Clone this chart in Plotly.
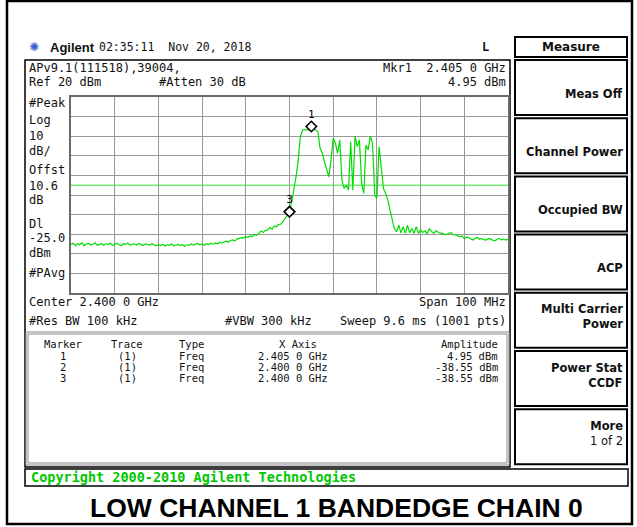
"""Agilent spectrum analyzer screen: low channel 1 bandedge, chain 0."""

import numpy as np
import plotly.graph_objects as go

W, H = 637, 527

# sweep settings
SWEEP_START_GHZ = 2.35
SWEEP_STOP_GHZ = 2.45
REF_LEVEL = 20
DB_PER_DIV = 10
DISPLAY_LINE = -25.0

# trace amplitude (dBm), one reading every 0.5 MHz across the 100 MHz span
trace_dbm = [
    -55.2, -54.6, -55.8, -54.9, -55.4, -54.3, -55.9, -55.0, -54.7, -55.5,
    -55.1, -54.4, -55.7, -55.2, -54.8, -55.6, -54.9, -55.3, -54.5, -55.8,
    -55.0, -54.6, -55.4, -55.9, -54.8, -55.2, -54.5, -55.7, -55.1, -54.9,
    -55.5, -54.7, -55.3, -55.8, -54.9, -55.2, -55.6, -54.8, -55.4, -55.9,
    -55.3, -55.8, -55.1, -56.0, -55.4, -55.7, -55.0, -55.9, -55.5, -55.2,
    -55.8, -55.3, -56.1, -55.4, -55.7, -55.0, -55.6, -55.2, -54.7, -55.4,
    -55.0, -55.6, -54.8, -55.3, -54.6, -55.1, -54.5, -54.9, -54.2, -54.6,
    -54.0, -53.6, -54.1, -53.2, -52.9, -53.4, -52.5, -52.1, -51.8, -52.0,
    -51.3, -51.6, -50.9, -51.2, -50.1, -50.6, -49.3, -48.4, -49.1, -48.0,
    -47.9, -46.6, -47.4, -45.8, -46.2, -45.1, -44.9, -43.6, -42.0, -40.3,
    -38.5, -33.4, -27.5, -20.7, -12.1, -0.2, 3.2, 3.4, 3.1, 3.6,
    4.9, 3.5, 3.3, 2.3, -6.2, -8.7, -13.0, -17.3, -20.7, -12.1,
    -1.1, -3.6, -8.7, -1.9, -22.4, -26.6, -24.9, -27.5, -2.8, -27.5,
    0.0, -5.3, -1.9, -24.1, -29.2, -4.5, -7.0, 0.0, -3.6, -30.0,
    -31.7, -5.3, -15.6, -26.6, -29.2, -32.6, -37.7, -42.8, -47.1, -48.8,
    -45.4, -49.3, -46.2, -49.6, -45.4, -49.3, -47.1, -49.6, -46.2, -49.6,
    -47.9, -49.1, -48.3, -49.8, -47.1, -48.6, -49.6, -48.2, -48.8, -49.5,
    -49.6, -50.2, -50.1, -49.4, -49.3, -50.3, -50.4, -50.9, -51.2, -51.0,
    -52.2, -51.5, -51.7, -52.4, -53.0, -52.1, -51.7, -52.6, -52.2, -52.8,
    -53.0, -52.3, -52.4, -53.1, -53.4, -52.6, -52.1, -52.9, -52.6, -53.0,
    -52.5,
]

# markers
marker_ids = ["1", "2", "3"]
marker_labels = ["1", "", "3"]
marker_freq_ghz = [2.405, 2.400, 2.400]
marker_amp_dbm = [4.95, -38.55, -38.55]
marker_freq_txt = ["2.405 0 GHz", "2.400 0 GHz", "2.400 0 GHz"]
marker_amp_txt = ["4.95 dBm", "-38.55 dBm", "-38.55 dBm"]

left_labels = ["#Peak", "Log", "10", "dB/", "Offst", "10.6", "dB", "Dl", "-25.0", "dBm", "#PAvg"]
left_label_y = [103, 120, 136, 151, 170, 186, 200, 224, 238, 253, 273]

softkeys = ["<b>Meas Off</b>", "<b>Channel Power</b>", "<b>Occupied BW</b>", "<b>ACP</b>",
            "<b>Multi Carrier</b><br><b>Power</b>", "<b>Power Stat</b><br><b>CCDF</b>",
            "<b>More</b><br>1 of 2"]

MONO = "DejaVu Sans Mono"
GREEN = "#00dd00"

freq = np.linspace(SWEEP_START_GHZ, SWEEP_STOP_GHZ, len(trace_dbm))


def px(x):
    return x / W


def py(y):
    return 1 - y / H


fig = go.Figure()

fig.add_trace(go.Scatter(
    x=freq, y=trace_dbm, mode="lines",
    line=dict(color=GREEN, width=1.2),
    hoverinfo="skip", showlegend=False,
))
fig.add_trace(go.Scatter(
    x=marker_freq_ghz, y=marker_amp_dbm, mode="markers+text",
    text=marker_labels, textposition="top center",
    textfont=dict(family=MONO, size=11, color="#000"),
    marker=dict(symbol="diamond", size=8, color="#fff",
                line=dict(color="#000", width=1.6)),
    hoverinfo="skip", showlegend=False,
))

shapes = []


def box(x0, y0, x1, y1, color="#000", width=2):
    shapes.append(dict(type="rect", xref="paper", yref="paper",
                       x0=px(x0), x1=px(x1), y0=py(y1), y1=py(y0),
                       line=dict(color=color, width=width), layer="below"))


box(7, 1, 632, 524, width=2.5)
box(25, 60, 510, 467, width=1.5)
box(26, 332, 509, 465, color="#888", width=1)
box(28, 334, 507, 463, color="#888", width=1)
box(515, 37, 627, 57)
for i in range(7):
    top = 60 + i * 58.2
    box(515, top, 627, top + 55)
box(25, 469, 628, 486, width=1.5)

# display line
shapes.append(dict(type="line", xref="x domain", yref="y",
                   x0=0, x1=1, y0=DISPLAY_LINE, y1=DISPLAY_LINE,
                   line=dict(color="#33e033", width=1)))

ann = []


def txt(x, y, s, anchor="left", size=12, color="#111", family=MONO, bold=False):
    if bold:
        s = f"<b>{s}</b>"
    ann.append(dict(x=px(x), y=py(y), xref="paper", yref="paper", text=s,
                    showarrow=False, xanchor=anchor, yanchor="middle", align="right",
                    font=dict(family=family, size=size, color=color)))


# header
txt(34, 47, "✺", anchor="center", size=12, color="#3b5fd0", family="DejaVu Sans")
txt(48, 47, "Agilent", size=13, family="Liberation Sans", bold=True)
txt(97, 47, "02:35:11  Nov 20, 2018", size=11.5)
txt(485, 47, "L", anchor="center", size=12, bold=True)
txt(571, 47, "Measure", anchor="center", size=12, family="DejaVu Sans", bold=True)

# top of display
txt(27, 68, "APv9.1(111518),39004,")
txt(27, 82, "Ref 20 dBm")
txt(157, 82, "#Atten 30 dB")
txt(508, 68, "Mkr1  2.405 0 GHz", anchor="right")
txt(508, 82, "4.95 dBm", anchor="right")
for lab, ly in zip(left_labels, left_label_y):
    txt(27, ly, lab)

# below grid
txt(27, 302, "Center 2.400 0 GHz")
txt(508, 302, "Span 100 MHz", anchor="right")
txt(27, 321, "#Res BW 100 kHz")
txt(223, 321, "#VBW 300 kHz")
txt(508, 321, "Sweep 9.6 ms (1001 pts)", anchor="right")

# marker table
TS = 10.5
txt(63, 344, "Marker", anchor="center", size=TS)
txt(127, 344, "Trace", anchor="center", size=TS)
txt(177, 344, "Type", size=TS)
txt(298, 344, "X Axis", anchor="center", size=TS)
txt(500, 344, "Amplitude", anchor="right", size=TS)
for i, mid in enumerate(marker_ids):
    ry = 356 + i * 11
    txt(63, ry, mid, anchor="center", size=TS)
    txt(127, ry, "(1)", anchor="center", size=TS)
    txt(177, ry, "Freq", size=TS)
    txt(330, ry, marker_freq_txt[i], anchor="right", size=TS)
    txt(500, ry, marker_amp_txt[i], anchor="right", size=TS)

# softkeys
for i, key in enumerate(softkeys):
    top = 60 + i * 58.2
    center = top + (33.5 if "<br>" not in key else 24)
    txt(625, center, key, anchor="right", size=11.5, family="DejaVu Sans")

txt(29, 477, "Copyright 2000-2010 Agilent Technologies", size=13.5,
    color="#00c800", bold=True)
txt(336, 508, "LOW CHANNEL 1 BANDEDGE CHAIN 0", anchor="center", size=26.5,
    color="#000", family="Liberation Sans", bold=True)

fig.update_layout(
    width=W, height=H,
    margin=dict(l=0, r=0, t=0, b=0),
    paper_bgcolor="#fff", plot_bgcolor="#fff",
    shapes=shapes, annotations=ann,
    xaxis=dict(domain=[px(71), px(508)], range=[SWEEP_START_GHZ, SWEEP_STOP_GHZ],
               tick0=SWEEP_START_GHZ, dtick=0.01, showticklabels=False, ticks="",
               showgrid=True, gridcolor="#999", gridwidth=1, zeroline=False,
               showline=True, mirror=True, linecolor="#6a6a6a", linewidth=2),
    yaxis=dict(domain=[py(293), py(97)],
               range=[REF_LEVEL - 10 * DB_PER_DIV, REF_LEVEL],
               tick0=REF_LEVEL, dtick=DB_PER_DIV, showticklabels=False, ticks="",
               showgrid=True, gridcolor="#999", gridwidth=1, zeroline=False,
               showline=True, mirror=True, linecolor="#6a6a6a", linewidth=2),
)

fig.write_html("out.html", config={"displayModeBar": False},
               post_script="document.body.style.margin='0';")
